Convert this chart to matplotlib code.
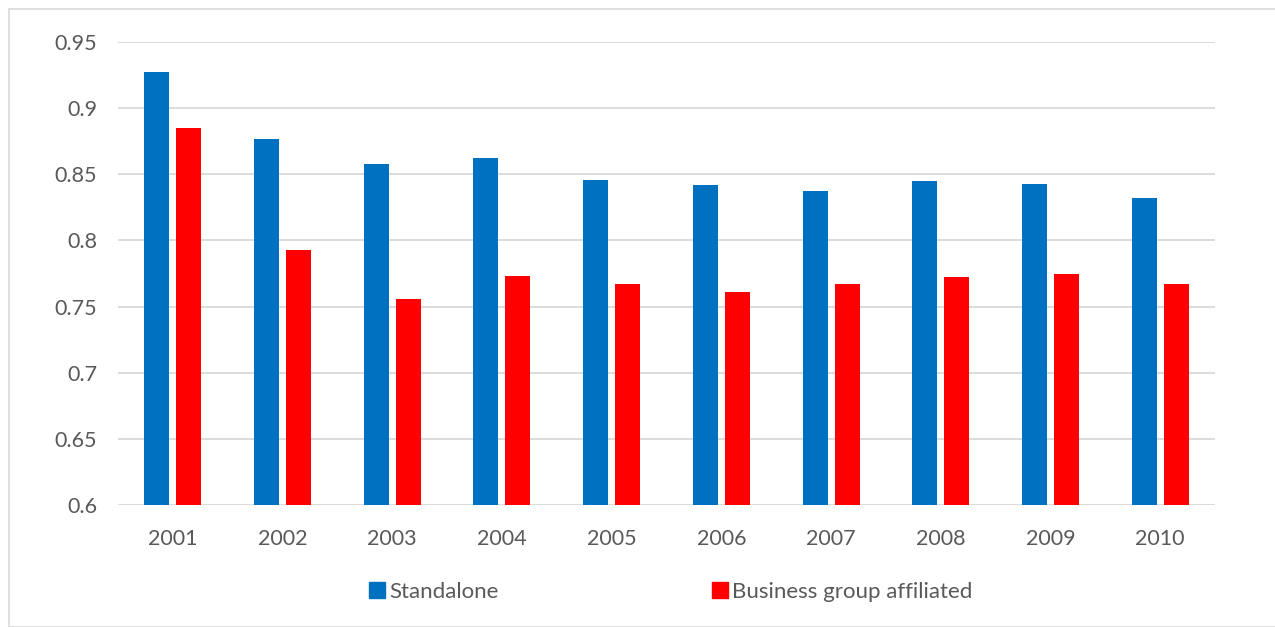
import numpy as np
import matplotlib.pyplot as plt
from matplotlib.patches import Patch, Rectangle

years = ["2001", "2002", "2003", "2004", "2005", "2006", "2007", "2008", "2009", "2010"]
standalone = [0.927, 0.877, 0.858, 0.862, 0.846, 0.842, 0.837, 0.845, 0.843, 0.832]
affiliated = [0.885, 0.793, 0.756, 0.773, 0.767, 0.761, 0.767, 0.772, 0.775, 0.767]
yticks = [0.6, 0.65, 0.7, 0.75, 0.8, 0.85, 0.9, 0.95]
ytick_labels = ["0.6", "0.65", "0.7", "0.75", "0.8", "0.85", "0.9", "0.95"]

blue = "#0070c0"
red = "#ff0000"
text_col = "#595959"
grid_col = "#d9d9d9"

plt.rcParams['font.family'] = ['Lato', 'DejaVu Sans']

fig = plt.figure(figsize=(12.75, 6.27), dpi=100)
ax = fig.add_axes([118 / 1275, 1 - 505 / 627, (1215 - 118) / 1275, (505 - 42) / 627])

x = np.arange(len(years))
w = 0.228
off = 0.146
ax.bar(x - off, standalone, width=w, color=blue, zorder=3)
ax.bar(x + off, affiliated, width=w, color=red, zorder=3)

ax.set_xlim(-0.5, len(years) - 0.5)
ax.set_ylim(0.6, 0.95)
ax.set_yticks(yticks)
ax.set_yticklabels(ytick_labels)
ax.set_xticks(x)
ax.set_xticklabels(years)
ax.tick_params(axis="both", length=0, labelsize=15.5, colors=text_col)
ax.tick_params(axis="y", pad=15)
ax.tick_params(axis="x", pad=17)
ax.grid(axis="y", color=grid_col, linewidth=1.3, zorder=0)
for s in ax.spines.values():
    s.set_visible(False)

handles = [Patch(color=blue, label="Standalone"),
           Patch(color=red, label="Business group affiliated")]
fig.legend(handles=handles, loc="center", bbox_to_anchor=(671 / 1275, 1 - 592 / 627),
           ncol=2, frameon=False, fontsize=16, labelcolor=text_col,
           handlelength=0.7, handleheight=0.7, handletextpad=0.2, columnspacing=9.6)

# light chart border
fig.patches.append(Rectangle((9 / 1275, 0), 1.0, 1 - 9 / 627, transform=fig.transFigure,
                             fill=False, edgecolor=grid_col, linewidth=1.2))

fig.savefig("out.png", dpi=100)
